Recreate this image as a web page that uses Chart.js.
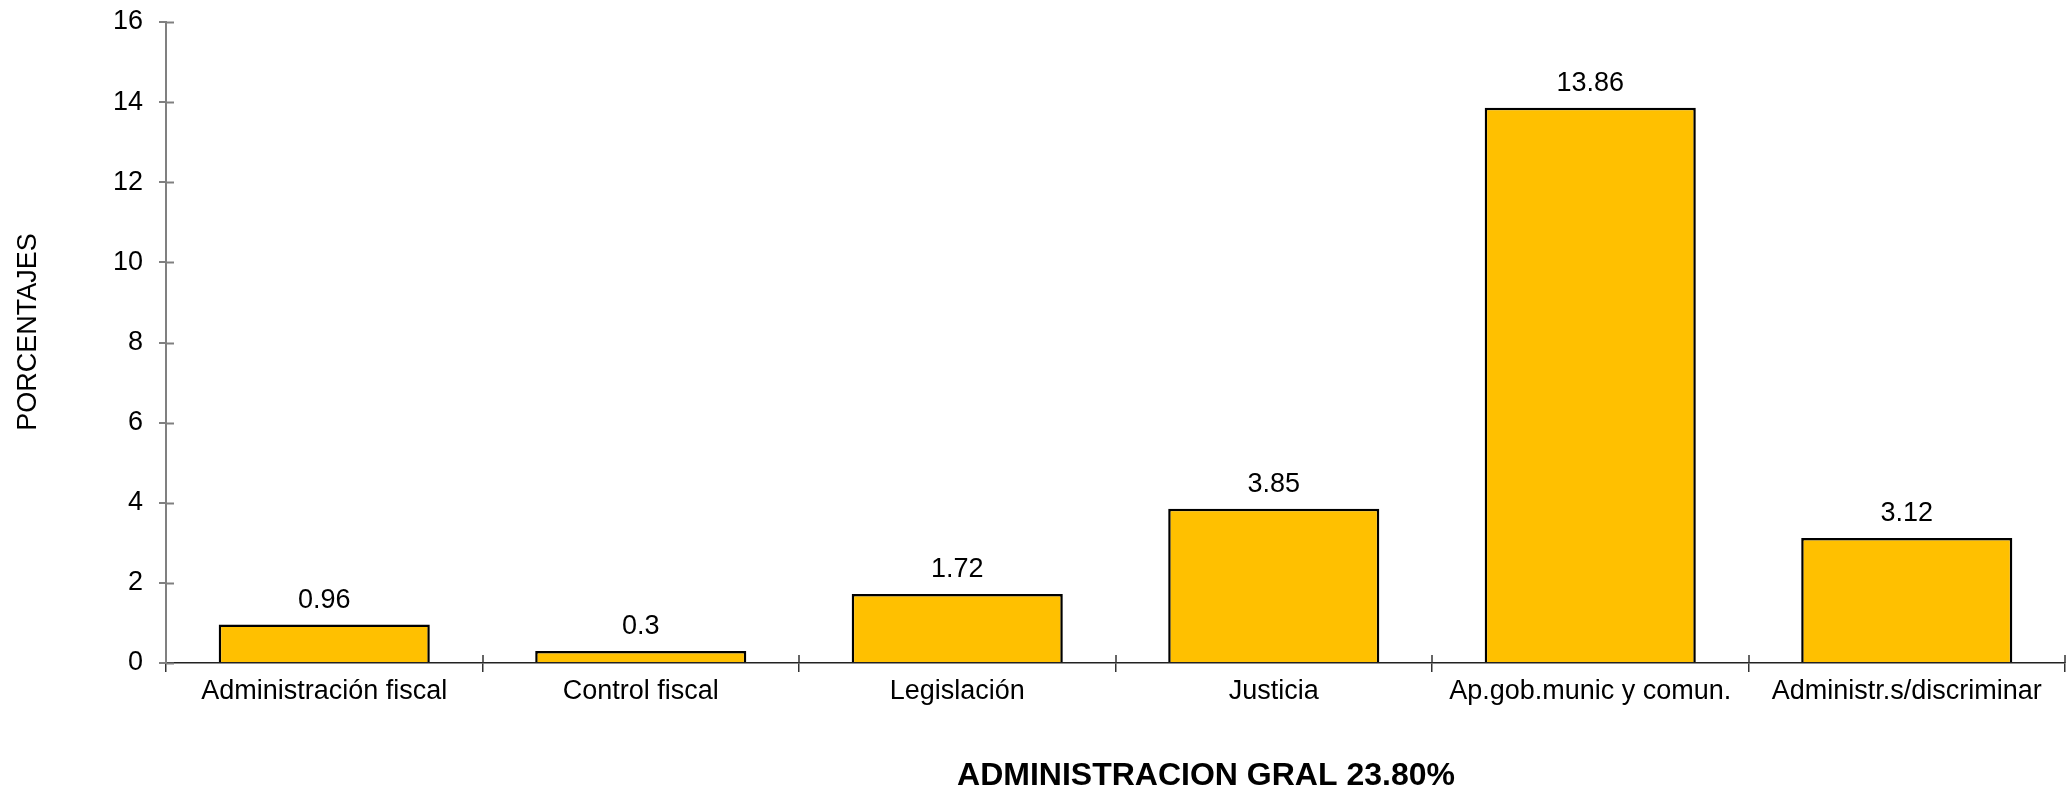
<!DOCTYPE html>
<html>
<head>
<meta charset="utf-8">
<script src="https://cdn.jsdelivr.net/npm/chart.js@4/dist/chart.umd.min.js"></script>
<style>
html,body{margin:0;padding:0;background:#fff;}
#wrap{width:2067px;height:791px;position:relative;}
</style>
</head>
<body>
<div id="wrap"><canvas id="c" width="2067" height="791"></canvas></div>
<script>
const categories = ["Administración fiscal","Control fiscal","Legislación","Justicia","Ap.gob.munic y comun.","Administr.s/discriminar"];
const values = [0.96, 0.3, 1.72, 3.85, 13.86, 3.12];
const valueLabels = ["0.96","0.3","1.72","3.85","13.86","3.12"];
const yTitle = "PORCENTAJES";
const xTitle = "ADMINISTRACION GRAL 23.80%";

const FONT = "'Liberation Sans', Arial, sans-serif";

const extras = {
  id: 'extras',
  afterDraw(chart) {
    const ctx = chart.ctx;
    const xs = chart.scales.x, ys = chart.scales.y;
    ctx.save();
    ctx.strokeStyle = '#808080';
    ctx.lineWidth = 2;
    ys.ticks.forEach((t, i) => {
      const py = Math.round(ys.getPixelForTick(i)) + 0.5;
      ctx.beginPath(); ctx.moveTo(ys.right, py); ctx.lineTo(ys.right + 8, py); ctx.stroke();
    });
    ctx.strokeStyle = '#333';
    ctx.lineWidth = 1.5;
    for (let i = 1; i <= categories.length; i++) {
      const px = Math.round(xs.getPixelForValue(i - 0.5));
      ctx.beginPath(); ctx.moveTo(px, xs.top); ctx.lineTo(px, xs.top - 8); ctx.stroke();
    }
    ctx.fillStyle = '#000';
    ctx.font = '27px ' + FONT;
    ctx.textAlign = 'center';
    ctx.textBaseline = 'alphabetic';
    const meta = chart.getDatasetMeta(0);
    meta.data.forEach((bar, i) => {
      ctx.fillText(valueLabels[i], bar.x, bar.y - 17);
    });
    ctx.save();
    ctx.translate(29, 332);
    ctx.rotate(-Math.PI / 2);
    ctx.textBaseline = 'middle';
    ctx.fillText(yTitle, 0, 0);
    ctx.restore();
    ctx.font = 'bold 32px ' + FONT;
    ctx.textBaseline = 'middle';
    ctx.fillText(xTitle, 1206, 776);
    ctx.restore();
  }
};

new Chart(document.getElementById('c'), {
  type: 'bar',
  data: {
    labels: categories,
    datasets: [{
      data: values,
      backgroundColor: '#FFC000',
      borderColor: '#000',
      borderWidth: 2.5,
      categoryPercentage: 0.667,
      barPercentage: 1.0
    }]
  },
  options: {
    responsive: false,
    animation: false,
    devicePixelRatio: 1,
    layout: { padding: { left: 0, right: 2, top: 22, bottom: 0 } },
    plugins: { legend: { display: false }, tooltip: { enabled: false }, title: { display: false } },
    scales: {
      x: {
        afterFit(s) { s.height = 128; s.paddingLeft = 0; s.paddingRight = 0; },
        border: { color: '#222', width: 1.5 },
        grid: { display: true, offset: true, drawOnChartArea: false, drawTicks: true, tickLength: 9, color: '#333', lineWidth: 1.5 },
        ticks: { color: '#000', font: { family: FONT, size: 27 }, padding: 3, maxRotation: 0, autoSkip: false }
      },
      y: {
        min: 0, max: 16,
        afterFit(s) { s.width = 166; s.paddingTop = 0; s.paddingBottom = 0; },
        border: { color: '#808080', width: 2 },
        grid: { display: true, drawOnChartArea: false, drawTicks: true, tickLength: 7, color: '#808080', lineWidth: 2 },
        ticks: { stepSize: 2, color: '#000', font: { family: FONT, size: 27 }, padding: 16 }
      }
    }
  },
  plugins: [extras]
});
</script>
</body>
</html>
